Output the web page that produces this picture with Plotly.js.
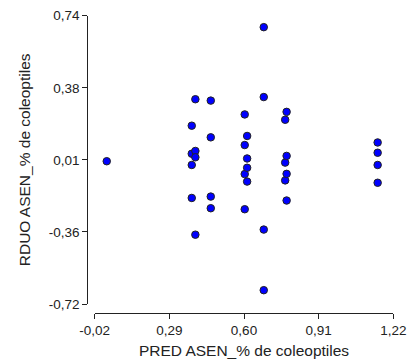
<!DOCTYPE html>
<html>
<head>
<meta charset="utf-8">
<script src="https://cdn.plot.ly/plotly-3.0.1.min.js"></script>
<style>html,body{margin:0;padding:0;background:#fff;}#chart{width:411px;height:361px;}</style>
</head>
<body>
<div id="chart"></div>
<script>
const predX = [0.030,
  0.383, 0.383, 0.383, 0.383,
  0.398, 0.398, 0.398, 0.398,
  0.462, 0.462, 0.462, 0.462,
  0.603, 0.603, 0.603, 0.603,
  0.613, 0.613, 0.613, 0.613,
  0.682, 0.682, 0.682, 0.682,
  0.771, 0.771, 0.771,
  0.777, 0.777, 0.777, 0.777,
  1.155, 1.155, 1.155, 1.155];
const rduoY = [0.003,
  0.183, 0.041, -0.016, -0.183,
  0.317, 0.055, 0.023, -0.369,
  0.310, 0.124, -0.176, -0.235,
  0.240, 0.085, -0.062, -0.240,
  0.131, 0.017, -0.030, -0.100,
  0.682, 0.328, -0.343, -0.650,
  0.213, -0.004, -0.094,
  0.253, 0.030, -0.061, -0.196,
  0.098, 0.046, -0.016, -0.106];
const xTickVals = [-0.02, 0.29, 0.60, 0.91, 1.22];
const xTickText = ["-0,02", "0,29", "0,60", "0,91", "1,22"];
const yTickVals = [-0.72, -0.355, 0.01, 0.375, 0.74];
const yTickText = ["-0,72", "-0,36", "0,01", "0,38", "0,74"];
const xTitle = "PRED ASEN_% de coleoptiles";
const yTitle = "RDUO ASEN_% de coleoptiles";

const trace = {
  x: predX, y: rduoY, type: 'scatter', mode: 'markers',
  marker: {size: 7.5, color: '#0000ff', line: {color: '#222', width: 1}},
  hoverinfo: 'none'
};
const font = {family: 'Liberation Sans, Arial, sans-serif', size: 13.5, color: '#222'};
const layout = {
  width: 411, height: 361,
  margin: {l: 0, r: 0, t: 0, b: 0},
  paper_bgcolor: '#fff', plot_bgcolor: '#fff',
  showlegend: false,
  font: font,
  xaxis: {
    domain: [94.7/411, 393.3/411],
    range: [-0.02, 1.22],
    anchor: 'free', position: (361-312.5)/361,
    tickmode: 'array', tickvals: xTickVals, ticktext: xTickText,
    ticks: 'outside', ticklen: 5, tickwidth: 1, tickcolor: '#222',
    showline: true, linecolor: '#222', linewidth: 1,
    showgrid: false, zeroline: false,
    tickfont: {size: 13.5},
    title: {text: xTitle, font: {size: 15.5}, standoff: 8},
    automargin: false
  },
  yaxis: {
    domain: [(361-304)/361, (361-15.7)/361],
    range: [-0.72, 0.74],
    anchor: 'free', position: 87.3/411,
    tickmode: 'array', tickvals: yTickVals, ticktext: yTickText,
    ticks: 'outside', ticklen: 5, tickwidth: 1, tickcolor: '#222',
    showline: true, linecolor: '#222', linewidth: 1,
    showgrid: false, zeroline: false,
    tickfont: {size: 13.5},
    title: {text: yTitle, font: {size: 15.5}, standoff: 13},
    automargin: false
  }
};
Plotly.newPlot('chart', [trace], layout, {staticPlot: true, displayModeBar: false});
</script>
</body>
</html>
